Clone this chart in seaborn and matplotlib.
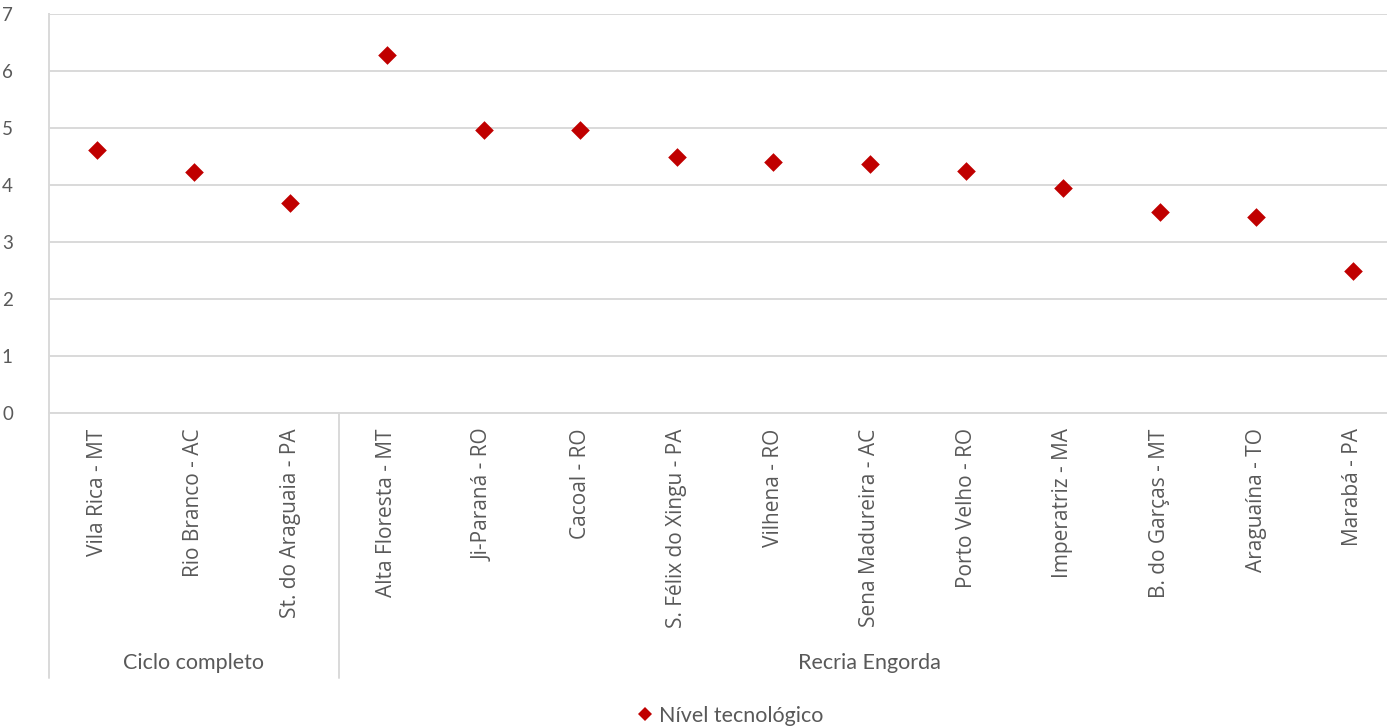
import matplotlib
matplotlib.use("Agg")
import matplotlib.pyplot as plt
import seaborn as sns
import pandas as pd

# Data
regioes = ["Vila Rica - MT", "Rio Branco - AC", "St. do Araguaia - PA",
           "Alta Floresta - MT", "Ji-Paraná - RO", "Cacoal - RO",
           "S. Félix do Xingu - PA", "Vilhena - RO", "Sena Madureira - AC",
           "Porto Velho - RO", "Imperatriz - MA", "B. do Garças - MT",
           "Araguaína - TO", "Marabá - PA"]
nivel = [4.61, 4.23, 3.68, 6.28, 4.96, 4.96, 4.49, 4.41, 4.36, 4.24,
         3.95, 3.52, 3.43, 2.49]
grupos = ["Ciclo completo", "Recria Engorda"]
tamanho_grupos = [3, 11]
serie = "Nível tecnológico"

df = pd.DataFrame({"regiao": regioes, "nivel": nivel, "serie": serie})

sns.set_theme(style="white")
plt.rcParams["font.family"] = ["Open Sans", "DejaVu Sans"]

W, H = 1387, 728
X0, X1 = 49, 1401          # plot area spans slightly past the right edge
Y0, Y1 = 14, 413
fig = plt.figure(figsize=(W / 100, H / 100), dpi=100)
ax = fig.add_axes([X0 / W, (H - Y1) / H, (X1 - X0) / W, (Y1 - Y0) / H])

grid_c = "#D9D9D9"
text_c = "#595959"
red = "#C00000"

sns.stripplot(data=df, x="regiao", y="nivel", hue="serie", jitter=False,
              marker="D", size=9.5, palette=[red], linewidth=0,
              ax=ax, zorder=3, legend=True)

ax.set_ylim(0, 7)
ax.set_xlim(-0.5, len(regioes) - 0.5)
ax.set_yticks(range(0, 8))
ax.yaxis.grid(True, color=grid_c, linewidth=1.4)
ax.set_axisbelow(True)
for s in ["top", "right"]:
    ax.spines[s].set_visible(False)
ax.spines["left"].set_color(grid_c)
ax.spines["left"].set_linewidth(1.4)
ax.spines["bottom"].set_color(grid_c)
ax.spines["bottom"].set_linewidth(1.4)
ax.tick_params(axis="y", length=0, pad=26, labelsize=13.5, labelcolor=text_c)
ax.tick_params(axis="x", length=0, pad=11, labelsize=15, labelcolor=text_c)
for lbl in ax.get_yticklabels():
    lbl.set_family(["Lato", "DejaVu Sans"])
ax.set_xticks(range(len(regioes)))
ax.set_xticklabels(regioes, rotation=90, va="top", ha="center",
                   family=["Open Sans", "DejaVu Sans"])
ax.set_xlabel("")
ax.set_ylabel("")

# Group separators and group labels below the category axis
trans = ax.get_xaxis_transform()
ph = Y1 - Y0
y_low = -(678 - Y1) / ph
start = 0
bounds = [-0.5]
for n in tamanho_grupos:
    start += n
    bounds.append(start - 0.5)
for b in bounds[:-1]:
    ax.plot([b, b], [0, y_low], transform=trans, color=grid_c,
            linewidth=1.4, clip_on=False)
for g, (a, b) in zip(grupos, zip(bounds[:-1], bounds[1:])):
    ax.text((a + b) / 2, -(663 - Y1) / ph, g, transform=trans,
            ha="center", va="center", fontsize=15.5, color=text_c,
            family=["Lato", "DejaVu Sans"])

# Legend at the bottom of the figure
leg = ax.legend(loc="center", bbox_to_anchor=(730 / W, (H - 716) / H),
                bbox_transform=fig.transFigure,
                frameon=False, fontsize=15.5, handletextpad=0.25,
                handlelength=0.8, markerscale=0.75, borderaxespad=0)
for t in leg.get_texts():
    t.set_color(text_c)
    t.set_family(["Lato", "DejaVu Sans"])

fig.savefig("out.png", dpi=100)
